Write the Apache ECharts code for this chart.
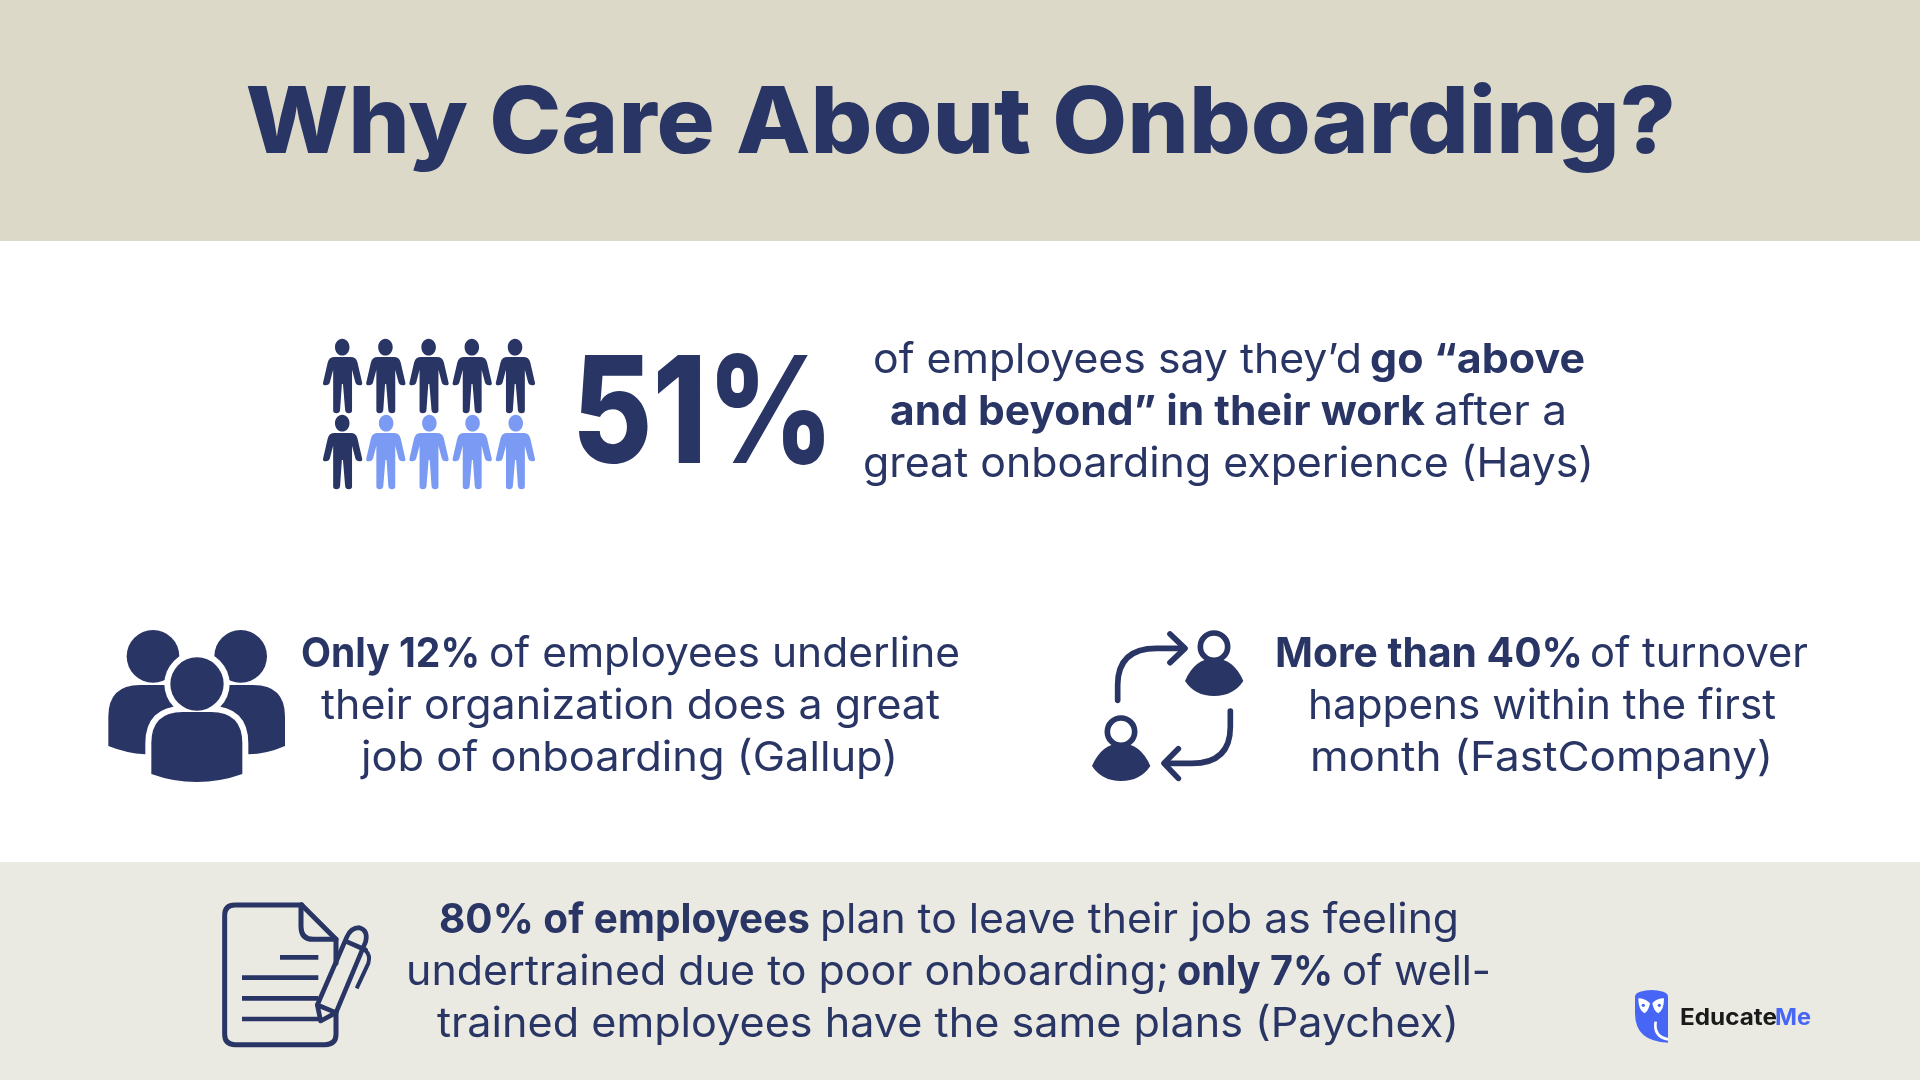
<!DOCTYPE html>
<html><head><meta charset="utf-8">
<style>html,body{margin:0;padding:0;background:#fff}#c{width:1920px;height:1080px}</style>
<script src="https://cdn.jsdelivr.net/npm/echarts@6/dist/echarts.min.js"></script>
</head><body><div id="c"></div>
<script>
// ---- data ----
const titleText = 'Why Care About Onboarding?';
const bigStat = '51%';
const peopleRows = ['top', 'bottom'];
const peopleDark = [5, 1];
const peopleLight = [0, 4];
const blockTop = [
  [['of employees say they’d',0],['go “above',1]],
  [['and beyond” in their work',1],['after a',0]],
  [['great onboarding experience (Hays)',0]]
];
const blockLeft = [
  [['Only 12%',1],['of employees underline',0]],
  [['their organization does a great',0]],
  [['job of onboarding (Gallup)',0]]
];
const blockRight = [
  [['More than 40%',1],['of turnover',0]],
  [['happens within the first',0]],
  [['month (FastCompany)',0]]
];
const blockBottom = [
  [['80% of employees',1],['plan to leave their job as feeling',0]],
  [['undertrained due to poor onboarding;',0],['only 7%',1],['of well-',0]],
  [['trained employees have the same plans (Paychex)',0]]
];
const brandA = 'Educate', brandB = 'Me';

// ---- style ----
const NAVY = '#293564', LIGHT = '#7B9AF3', BAND1 = '#DCD9C8', BAND2 = '#EBEAE2', BLUE = '#4766F5';
const FONT = 'Inter';
const mctx = document.createElement('canvas').getContext('2d');
function plain(text, left, right, baseline, size, weight, fill, k) {
  mctx.font = weight + ' ' + size + 'px ' + FONT;
  return {
    type: 'text', x: (left + right) / 2, y: baseline - size * (k || 0.29),
    scaleX: (right - left) / mctx.measureText(text).width,
    style: {text, fontFamily: FONT, fontSize: size, fontWeight: weight, fill, align: 'center', verticalAlign: 'middle'}
  };
}
function icon(x, y, children) { return {type: 'group', x, y, scaleX: 1 / 3, scaleY: 1 / 3, children}; }
const P = (d, style) => ({type: 'path', shape: {pathData: d}, style});
const C = (cx, cy, r, style) => ({type: 'circle', shape: {cx, cy, r}, style});
const fillN = {fill: NAVY}, fillW = {fill: '#fff'};
const strokeN = w => ({fill: 'none', stroke: NAVY, lineWidth: w, lineCap: 'round', lineJoin: 'round'});

const centerBody = 'M184 492 L184 400 Q184 306 278 306 L363 306 Q457 306 457 400 L457 492 Q390 516 320 516 Q250 516 184 492Z';
const groupIcon = icon(90, 610, [
  C(189, 139, 79, fillN), C(452, 139, 79, fillN),
  P('M55 408 L55 320 Q55 225 150 225 L490 225 Q585 225 585 320 L585 408 Q530 432 475 433 L165 433 Q110 430 55 408Z', fillN),
  C(321, 222, 98, fillW),
  P(centerBody, {fill: '#fff', stroke: '#fff', lineWidth: 36}),
  P(centerBody, fillN),
  C(321, 222, 80, fillN)
]);
const dome = 'M345 213 Q375 145 432 145 Q490 145 520 213 Q490 258 432 258 Q375 258 345 213Z';
const swapIcon = icon(1070, 610, [
  C(432, 110, 41, {fill: 'none', stroke: NAVY, lineWidth: 17}),
  P(dome, fillN),
  {type: 'group', x: -279, y: 255, children: [
    C(432, 110, 41, {fill: 'none', stroke: NAVY, lineWidth: 17}),
    P(dome, fillN)
  ]},
  P('M143 271 L143 225 Q143 115 260 115 L340 115', strokeN(17)),
  P('M300 72 L345 115 L300 158', strokeN(17)),
  P('M481 303 L481 350 Q481 460 365 460 L285 460', strokeN(17)),
  P('M325 416 L282 460 L325 505', strokeN(17))
]);
const docIcon = icon(200, 880, [
  P('M305 75 L105 75 Q74 75 74 106 L74 463 Q74 494 105 494 L375 494 Q408 494 408 463 L408 395', strokeN(15)),
  P('M305 75 L408 178 L408 250', strokeN(15)),
  P('M303 75 L303 140 Q303 178 340 178 L408 178', strokeN(15)),
  P('M240 232 L355 232 M126 293 L355 293 M126 355 L355 355 M126 417 L358 417', {fill: 'none', stroke: NAVY, lineWidth: 14}),
  P('M352 375 L440 172 Q452 143 478 143 Q505 150 497 185 L408 398 Z', strokeN(14)),
  P('M352 375 L362 423 L408 398', strokeN(14)),
  P('M440 185 L497 210', strokeN(14)),
  P('M497 212 Q512 225 505 250 L470 325', {fill: 'none', stroke: NAVY, lineWidth: 12})
]);
const logo = icon(1600, 970, [
  P('M105 80 Q105 70 120 65 Q155 55 190 65 Q204 70 204 80 L204 218 Q105 215 105 130 Z', {fill: BLUE}),
  P('M115 85 Q135 85 150 100 Q145 125 133 130 Q115 120 115 85Z', fillW),
  P('M192 85 Q170 85 157 100 Q162 125 175 130 Q192 120 192 85Z', fillW),
  C(130, 106, 5, {fill: BLUE}), C(178, 106, 5, {fill: BLUE}),
  P('M167 155 Q160 200 204 208', {fill: 'none', stroke: '#fff', lineWidth: 8})
]);

const BODY = 41, WN = 400, WB = 700;
const texts = [
  plain(titleText, 245.5, 1676, 155, 92, 800, NAVY, 0.32),
  plain(bigStat, 572, 834, 467, 149, 800, NAVY, 0.33)
];
[[blockTop, [[[874,1360],[1371,1583]], [[891,1423],[1435,1565]], [[864,1592]]], [373,425,477]],
 [blockLeft, [[[302,478],[490,958]], [[322,938]], [[362,896]]], [667,719,771]],
 [blockRight, [[[1276,1581],[1591,1806]], [[1309,1774]], [[1311,1771]]], [667,719,771]],
 [blockBottom, [[[440,808],[821,1457]], [[407,1167],[1178,1331],[1343,1489]], [[438,1457]]], [933,985,1037]]
].forEach(([b, ext, base]) => b.forEach((segs, i) => segs.forEach((s, j) =>
  texts.push(plain(s[0], ext[i][j][0] - 1, ext[i][j][1] + 2, base[i], BODY, s[1] ? WB : WN, NAVY))
)));
texts.push(plain(brandA, 1680, 1777, 1025, 23, 700, '#1a1a1a', 0.3));
texts.push(plain(brandB, 1775, 1811, 1025, 23, 700, BLUE, 0.3));

const personPath = 'path://M54 -1 C65 -1 74 10 74 24 C74 38 65 49 54 49 C43 49 34 38 34 24 C34 10 43 -1 54 -1Z M33 54 L77 54 Q92 54 96 70 L109 132 Q110 139 102 139 Q92 139 90 130 L81 92 L81 215 Q81 223 72 223 Q63 223 62 214 L56 135 L53 135 L48 214 Q47 223 38 223 Q29 223 29 215 L29 92 L20 130 Q18 139 8 139 Q0 139 1 132 L14 70 Q18 54 33 54Z';
const pict = (name, data, color, xAxisIndex) => ({
  type: 'pictorialBar', name, data, xAxisIndex, barWidth: 75, barGap: '-100%',
  symbol: personPath, symbolSize: [39.3, 74.3], symbolRepeat: true, symbolMargin: '1.95!',
  symbolPosition: 'start', itemStyle: {color}, silent: true, animation: false
});

const chart = echarts.init(document.getElementById('c'), null, {width: 1920, height: 1080});
chart.setOption({
  animation: false,
  backgroundColor: '#fff',
  grid: {left: 321, top: 338, width: 216, height: 152},
  xAxis: [
    {type: 'value', min: 0, max: 5, show: false},
    {type: 'value', min: 0, max: 5, show: false, inverse: true}
  ],
  yAxis: {type: 'category', data: peopleRows, inverse: true, show: false},
  series: [
    pict('Went above and beyond', peopleDark, NAVY, 0),
    pict('Others', peopleLight, LIGHT, 1),
    {type: 'custom', coordinateSystem: 'none', data: [0], silent: true, animation: false,
     renderItem: () => ({type: 'group', children: [groupIcon, swapIcon, docIcon, logo]})}
  ],
  graphic: {elements: [
    {type: 'rect', shape: {x: 0, y: 0, width: 1920, height: 241}, style: {fill: BAND1}, z: -1},
    {type: 'rect', shape: {x: 0, y: 862, width: 1920, height: 218}, style: {fill: BAND2}, z: -1},
    ...texts
  ]}
});
</script></body></html>
